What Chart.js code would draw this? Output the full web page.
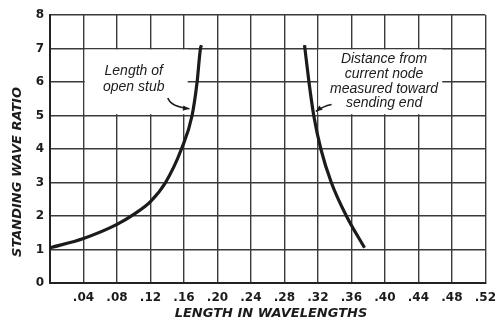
<!DOCTYPE html>
<html><head><meta charset="utf-8">
<script src="https://cdn.jsdelivr.net/npm/chart.js@4/dist/chart.umd.min.js"></script>
<style>html,body{margin:0;padding:0;background:#fff}#wrap{width:504px;height:321px}</style>
</head><body><div id="wrap"><canvas id="c" width="504" height="321"></canvas></div>
<script>
// Data
const stubLength = [0.0, 0.04, 0.08, 0.10, 0.12, 0.138, 0.157, 0.1697, 0.1757, 0.1797, 0.181];
const stubSWR    = [1.05, 1.33, 1.75, 2.05, 2.43, 3.0, 4.0, 5.0, 6.0, 7.0, 7.1];
const nodeDist   = [0.304, 0.3093, 0.315, 0.3235, 0.336, 0.354, 0.3757];
const nodeSWR    = [7.1, 6.0, 5.0, 4.0, 3.0, 2.0, 1.05];
const xTickValues = [0, 0.04, 0.08, 0.12, 0.16, 0.20, 0.24, 0.28, 0.32, 0.36, 0.40, 0.44, 0.48, 0.52];
const yTickValues = [0, 1, 2, 3, 4, 5, 6, 7, 8];
const xTitle = 'LENGTH IN WAVELENGTHS';
const yTitle = 'STANDING WAVE RATIO';
const stubNote = ['Length of', 'open stub'];
const nodeNote = ['Distance from', 'current node', 'measured toward', 'sending end'];

const toPts = (xs, ys) => xs.map((x, i) => ({x: x, y: ys[i]}));
const ink = '#1b1b1b';

function arrow(ctx, pts, head) {
  ctx.beginPath();
  ctx.moveTo(pts[0][0], pts[0][1]);
  ctx.quadraticCurveTo(pts[1][0], pts[1][1], pts[2][0], pts[2][1]);
  ctx.stroke();
  const [ex, ey] = pts[2];
  const ang = Math.atan2(ey - pts[1][1], ex - pts[1][0]);
  ctx.beginPath();
  ctx.moveTo(ex, ey);
  ctx.lineTo(ex - head * Math.cos(ang - 0.4), ey - head * Math.sin(ang - 0.4));
  ctx.lineTo(ex - head * Math.cos(ang + 0.4), ey - head * Math.sin(ang + 0.4));
  ctx.closePath();
  ctx.fill();
}

const notesPlugin = {
  id: 'notes',
  beforeDatasetsDraw(chart) {
    const ctx = chart.ctx, X = chart.scales.x, Y = chart.scales.y;
    ctx.save();
    ctx.fillStyle = '#fff';
    const box = (x0, y0, x1, y1) => {
      const px0 = X.getPixelForValue(x0), px1 = X.getPixelForValue(x1);
      const py0 = Y.getPixelForValue(y1), py1 = Y.getPixelForValue(y0);
      ctx.fillRect(px0, py0, px1 - px0, py1 - py0);
    };
    box(0.0415, 5.04, 0.1645, 6.97);
    box(0.3205, 5.04, 0.4685, 6.97);
    ctx.fillStyle = ink;
    ctx.font = 'italic 14px "Liberation Sans"';
    ctx.textAlign = 'center';
    ctx.textBaseline = 'middle';
    stubNote.forEach((t, i) => ctx.fillText(t, X.getPixelForValue(0.100), Y.getPixelForValue(6.33 - i * 0.48)));
    nodeNote.forEach((t, i) => ctx.fillText(t, X.getPixelForValue(0.399), Y.getPixelForValue(6.68 - i * 0.44)));
    ctx.strokeStyle = ink;
    ctx.lineWidth = 1.6;
    const P = (x, y) => [X.getPixelForValue(x), Y.getPixelForValue(y)];
    arrow(ctx, [P(0.1407, 5.52), P(0.1445, 5.26), P(0.1665, 5.2)], 7);
    arrow(ctx, [P(0.3363, 5.33), P(0.326, 5.28), P(0.3175, 5.12)], 7);
    ctx.restore();
  },
  afterDraw(chart) {
    const ctx = chart.ctx;
    ctx.save();
    ctx.fillStyle = ink;
    ctx.font = 'italic bold 13px "DejaVu Sans"';
    ctx.textAlign = 'center';
    ctx.textBaseline = 'middle';
    ctx.fillText(xTitle, 271, 314);
    ctx.translate(18, 172);
    ctx.rotate(-Math.PI / 2);
    ctx.fillText(yTitle, 0, 0);
    ctx.restore();
  }
};

new Chart(document.getElementById('c'), {
  type: 'scatter',
  data: {
    datasets: [
      {label: 'Length of open stub', data: toPts(stubLength, stubSWR), showLine: true,
       borderColor: ink, borderWidth: 3.2, pointRadius: 0, cubicInterpolationMode: 'monotone', fill: false},
      {label: 'Distance from current node', data: toPts(nodeDist, nodeSWR), showLine: true,
       borderColor: ink, borderWidth: 3.2, pointRadius: 0, cubicInterpolationMode: 'monotone', fill: false}
    ]
  },
  options: {
    responsive: false,
    animation: false,
    devicePixelRatio: 1,
    layout: {padding: {left: 0, right: 18, top: 15, bottom: 0}},
    plugins: {legend: {display: false}, tooltip: {enabled: false}},
    scales: {
      x: {
        type: 'linear', min: 0, max: 0.52,
        afterBuildTicks: s => { s.ticks = xTickValues.map(v => ({value: v})); },
        afterFit: s => { s.height = 38; },
        grid: {color: '#3a3a3a', lineWidth: 1.4, drawTicks: false},
        border: {display: true, color: '#222', width: 2},
        ticks: {
          padding: 8, color: ink, maxRotation: 0, autoSkip: false,
          font: {family: '"DejaVu Sans"', size: 12, weight: 'bold'},
          callback: v => v === 0 ? '' : '.' + String(Math.round(v * 100)).padStart(2, '0')
        }
      },
      y: {
        type: 'linear', min: 0, max: 8,
        afterBuildTicks: s => { s.ticks = yTickValues.map(v => ({value: v})); },
        afterFit: s => { s.width = 50; },
        grid: {color: '#3a3a3a', lineWidth: 1.4, drawTicks: false},
        border: {display: true, color: '#222', width: 2},
        ticks: {
          padding: 6, color: ink,
          font: {family: '"DejaVu Sans"', size: 12, weight: 'bold'}
        }
      }
    }
  },
  plugins: [notesPlugin]
});
</script>
</body></html>
